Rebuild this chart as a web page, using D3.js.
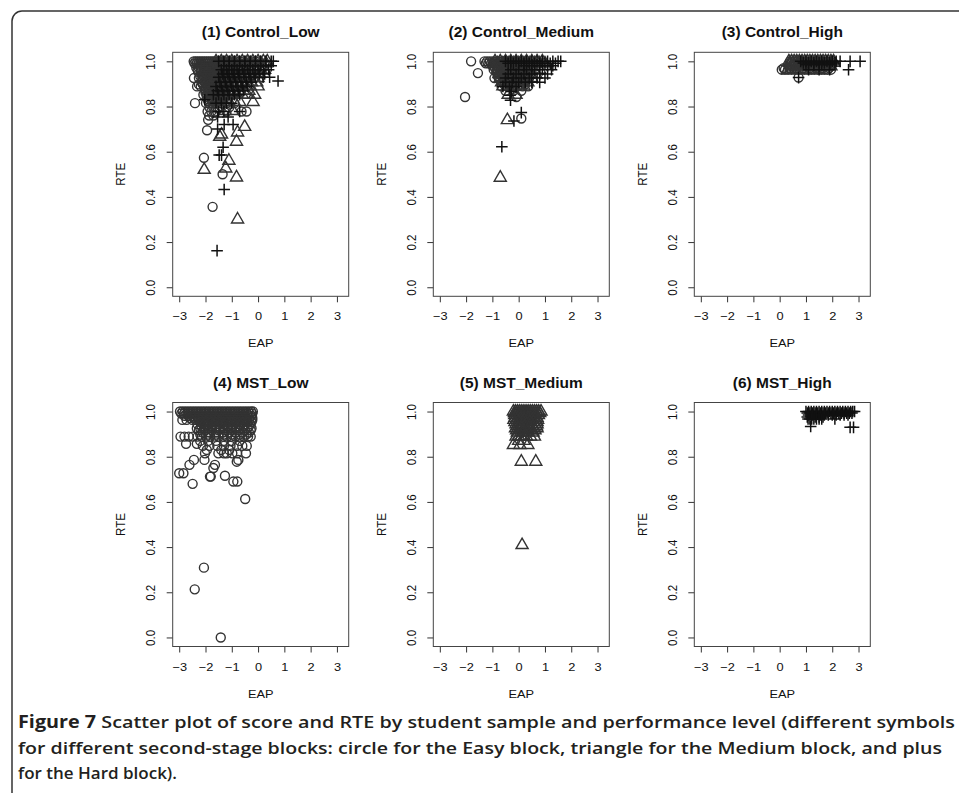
<!DOCTYPE html>
<html>
<head>
<meta charset="utf-8">
<script src="https://cdn.jsdelivr.net/npm/d3@7"></script>
<style>
  body { margin: 0; background: #fff; }
  svg text { font-family: "Liberation Sans", Arial, sans-serif; fill: #111; }
</style>
</head>
<body>
<svg id="chart" width="959" height="793"></svg>
<script>
// each row: [RTE, EAP, EAP, ...]  (points sharing one RTE value)
var xTicks = [-3, -2, -1, 0, 1, 2, 3];
var yTicks = [0, 0.2, 0.4, 0.6, 0.8, 1.0];
var titles = ['(1) Control_Low', '(2) Control_Medium', '(3) Control_High',
              '(4) MST_Low', '(5) MST_Medium', '(6) MST_High'];

var ctrlLowEasy = [
  [1.000, -2.45,-2.38,-2.31,-2.24,-2.17,-2.10,-2.03,-1.96,-1.89,-1.82,-1.75,-1.68,-1.61,-1.54,-1.47,-1.40,-1.33,-1.25,-1.15,-1.05,-0.95,-0.85,-0.7,-0.55,-0.4,-0.25,-0.1,0.05],
  [0.991, -2.42,-2.33,-2.24,-2.15,-2.06,-1.97,-1.88,-1.79,-1.70,-1.61,-1.52,-1.43,-1.34,-1.2,-1.0,-0.8,-0.5,-0.2],
  [0.981, -2.2,-2.05,-1.9,-1.75,-1.6,-1.45,-1.3,-1.15,-1.0,-0.85,-0.7],
  [0.972, -2.35,-2.25,-2.15,-2.05,-1.95,-1.85,-1.75,-1.65,-1.55,-1.45,-1.35,-1.25,-1.1,-0.95,-0.8],
  [0.963, -2.30,-2.18,-2.06,-1.94,-1.82,-1.70,-1.58,-1.46,-1.34,-1.22,-1.10,-0.98,-0.86,-0.74,-0.6],
  [0.954, -2.28,-2.16,-2.04,-1.92,-1.8,-1.68,-1.56,-1.44,-1.32,-1.2,-1.08],
  [0.944, -2.1,-1.95,-1.8,-1.65,-1.5,-1.35,-1.2,-1.05,-0.9],
  [0.935, -2.2,-2.08,-1.96,-1.84,-1.72,-1.6,-1.48,-1.36,-1.24,-1.12],
  [0.926, -2.44,-2.25,-2.12,-2.0,-1.88,-1.76,-1.64,-1.52,-1.40,-1.28,-1.16,-1.04,-0.92],
  [0.917, -2.1,-1.97,-1.84,-1.71,-1.58,-1.45,-1.32,-1.19],
  [0.907, -2.15,-2.0,-1.85,-1.7,-1.55,-1.4,-1.25,-1.1],
  [0.898, -2.25,-2.1,-1.96,-1.82,-1.68,-1.54,-1.4,-1.26,-1.12],
  [0.889, -2.32,-2.18,-2.05,-1.92,-1.80,-1.68,-1.56,-1.44,-1.32,-1.20,-1.08,-0.9],
  [0.880, -2.02,-1.88,-1.74,-1.6,-1.46,-1.32],
  [0.870, -2.0,-1.85,-1.7,-1.55,-1.4,-1.25],
  [0.861, -2.0,-1.86,-1.72,-1.58,-1.44,-1.3],
  [0.852, -2.08,-1.95,-1.82,-1.70,-1.58,-1.46,-1.34,-1.2,-1.0],
  [0.843, -1.95,-1.8,-1.65,-1.5,-1.35],
  [0.833, -1.9,-1.75,-1.6,-1.45,-1.3],
  [0.824, -1.9,-1.75,-1.6,-1.45],
  [0.815, -2.40,-1.98,-1.86,-1.74,-1.62,-1.5,-1.38,-1.2,-0.9],
  [0.796, -1.85,-1.7,-1.55,-1.1],
  [0.778, -1.92,-1.78,-1.64,-1.2,-0.63,-0.44],
  [0.760, -1.86,-1.7],
  [0.741, -1.90],
  [0.695, -1.94],
  [0.573, -2.06],
  [0.500, -1.35],
  [0.356, -1.73]
];
var ctrlLowMedium = [
  [1.000, -1.6,-1.4,-1.2,-1.0,-0.8,-0.6,-0.4,-0.2,0.0,0.2,0.35],
  [0.991, -1.5,-1.3,-1.1,-0.9,-0.7,-0.5,-0.3,-0.1,0.1,0.3],
  [0.963, -1.5,-1.3,-1.1,-0.9,-0.7,-0.5,-0.3,-0.1,0.1,0.25],
  [0.944, -1.55,-1.35,-1.15,-0.95,-0.75,-0.55,-0.35,-0.15,0.05],
  [0.926, -1.6,-1.4,-1.2,-1.0,-0.8,-0.6,-0.4,-0.2,0.0],
  [0.907, -1.45,-1.25,-1.05,-0.85,-0.65,-0.45,-0.25,-0.05],
  [0.889, -1.5,-1.3,-1.1,-0.9,-0.7,-0.5,-0.3,0.0],
  [0.870, -1.35,-1.15,-0.95,-0.75,-0.55,-0.35],
  [0.852, -1.4,-1.2,-1.0,-0.8,-0.6,-0.4,-0.13],
  [0.820, -1.3,-1.1,-0.9,-0.7,-0.19],
  [0.780, -1.25,-0.95],
  [0.710, -0.51],
  [0.685, -0.78],
  [0.676, -1.39],
  [0.666, -1.46],
  [0.644, -0.82],
  [0.560, -1.11],
  [0.526, -1.23],
  [0.520, -2.05],
  [0.486, -0.82],
  [0.300, -0.78]
];
var ctrlLowHard = [
  [1.000, -1.5,-1.3,-1.1,-0.9,-0.7,-0.5,-0.3,-0.1,0.1,0.3,0.5,0.58],
  [0.981, -1.3,-1.1,-0.9,-0.7,-0.5,-0.3,-0.1,0.1,0.3,0.5],
  [0.963, -1.4,-1.2,-1.0,-0.8,-0.6,-0.4,-0.2,0.0,0.2,0.4],
  [0.944, -1.35,-1.15,-0.95,-0.75,-0.55,-0.35,-0.15,0.05,0.25],
  [0.930, -1.5,-1.3,-1.1,-0.9,-0.7,-0.5,-0.3,-0.1,0.19,0.44],
  [0.913, 0.76],
  [0.907, -1.45,-1.25,-1.05,-0.85,-0.65,-0.45,-0.25],
  [0.889, -1.6,-1.4,-1.2,-1.0,-0.8,-0.6,-0.4],
  [0.870, -1.55,-1.35,-1.15,-0.95,-0.75,-0.55],
  [0.852, -1.7,-1.5,-1.3,-1.1,-0.9,-0.7],
  [0.830, -2.03],
  [0.815, -1.6,-1.4,-1.2,-1.0],
  [0.778, -1.5,-1.3,-0.7],
  [0.754, -1.54,-1.14],
  [0.720, -1.29,-0.95],
  [0.700, -1.54],
  [0.620, -1.33],
  [0.585, -1.48,-1.39],
  [0.433, -1.29],
  [0.162, -1.56]
];

var ctrlMedEasy = [
  [1.000, -1.81,-1.3,-1.2,-1.1,-1.0,-0.9,-0.8,-0.7,-0.6,-0.5,-0.4,-0.3,-0.2,-0.1,0.0,0.15,0.3,0.5,0.7],
  [0.991, -1.25,-1.15,-1.05,-0.95,-0.85,-0.75,-0.65,-0.55,-0.45,-0.35,-0.25,-0.15,-0.05,0.1,0.25,0.4],
  [0.981, -1.0,-0.85,-0.7,-0.55,-0.4,-0.25,-0.1,0.05,0.2],
  [0.972, -0.9,-0.75,-0.6,-0.45,-0.3,-0.15,0.0,0.15,0.35],
  [0.963, -0.95,-0.8,-0.65,-0.5,-0.35,-0.2,-0.05,0.1,0.3,0.5],
  [0.954, -0.85,-0.7,-0.55,-0.4,-0.25,-0.1,0.05,0.2,0.4],
  [0.948, -1.55,-0.79],
  [0.944, -0.7,-0.55,-0.4,-0.25,-0.1,0.05],
  [0.935, -0.8,-0.65,-0.5,-0.35,-0.2,-0.05,0.1,0.3],
  [0.926, -0.92,-0.75,-0.6,-0.45,-0.3,-0.15,0.0,0.2,0.4],
  [0.917, -0.7,-0.5,-0.3,-0.1,0.1,0.3],
  [0.907, -0.6,-0.4,-0.2,0.0,0.2],
  [0.898, -0.55,-0.35,-0.15,0.05,0.25],
  [0.889, -0.65,-0.45,-0.25,-0.05,0.15,0.36],
  [0.870, -0.5,-0.2,0.1],
  [0.842, -2.04,-0.09],
  [0.747, 0.10]
];
var ctrlMedMedium = [
  [1.000, -0.9,-0.7,-0.5,-0.3,-0.1,0.1,0.3,0.5,0.7,0.9],
  [0.991, -0.8,-0.6,-0.4,-0.2,0.0,0.2,0.4,0.6,0.8,1.0],
  [0.963, -0.8,-0.6,-0.4,-0.2,0.0,0.2,0.4,0.6,0.8],
  [0.944, -0.75,-0.55,-0.35,-0.15,0.05,0.25,0.45,0.65],
  [0.926, -0.7,-0.5,-0.3,-0.1,0.1,0.3,0.5],
  [0.907, -0.65,-0.45,-0.25,-0.05,0.15,0.35],
  [0.889, -0.6,-0.4,-0.2,0.0,0.2],
  [0.852, -0.4,-0.1],
  [0.740, -0.43],
  [0.485, -0.70]
];
var ctrlMedHard = [
  [1.000, -0.5,-0.3,-0.1,0.1,0.3,0.5,0.7,0.9,1.1,1.3,1.5,1.6],
  [0.991, -0.4,-0.2,0.0,0.2,0.4,0.6,0.8,1.0,1.2,1.4],
  [0.981, 0.2,0.5,0.8,1.1,1.3],
  [0.963, -0.3,0.0,0.3,0.6,0.9,1.25],
  [0.944, -0.4,-0.1,0.2,0.5,0.8,1.1],
  [0.926, -0.5,-0.2,0.1,0.4,0.7,1.0],
  [0.907, -0.5,-0.25,0.0,0.25,0.5,0.8],
  [0.889, -0.6,-0.35,-0.1],
  [0.866, -0.28],
  [0.850, -0.33],
  [0.828, -0.31],
  [0.773, 0.10],
  [0.736, -0.18],
  [0.622, -0.64]
];

var ctrlHighEasy = [
  [1.000, 0.4,0.6,0.8,1.0,1.2,1.4],
  [0.970, 0.15,0.38,0.64,0.9,1.14,1.38,1.64,1.88],
  [0.963, 0.08,0.2,0.32,0.45,0.58,0.7,0.82,0.95,1.08,1.2,1.32,1.45,1.58,1.7,1.82,1.95],
  [0.928, 0.72]
];
var ctrlHighMedium = [
  [1.000, 0.35,0.45,0.55,0.65,0.75,0.85,0.95,1.05,1.15,1.25,1.35,1.45,1.55,1.65,1.75,1.85,1.95,2.05],
  [0.993, 0.38,0.5,0.62,0.74,0.86,0.98,1.1,1.22,1.34,1.46,1.58,1.7,1.82,1.94,2.06],
  [0.985, 0.4,0.55,0.7,0.85,1.0,1.15,1.3,1.45,1.6,1.75,1.9],
  [0.978, 0.45,0.6,0.75,0.9,1.05,1.2,1.35,1.5,1.65,1.8,1.95],
  [0.963, 0.3,0.42,0.6,0.9,1.2,1.5]
];
var ctrlHighHard = [
  [1.000, 0.8,1.0,1.2,1.4,1.6,1.8,2.0,2.15,2.3,2.68,3.06],
  [0.993, 0.9,1.1,1.3,1.5,1.7,1.9,2.1],
  [0.985, 1.0,1.3,1.6,1.9],
  [0.963, 1.1,1.5,1.9,2.62],
  [0.928, 0.72]
];

var mstLowEasy = [
  [1.000, -2.97,-2.87,-2.77,-2.67,-2.57,-2.47,-2.37,-2.27,-2.17,-2.07,-1.97,-1.87,-1.77,-1.67,-1.57,-1.47,-1.37,-1.27,-1.17,-1.07,-0.97,-0.87,-0.77,-0.67,-0.57,-0.47,-0.37,-0.27,-0.2],
  [0.991, -2.92,-2.82,-2.72,-2.62,-2.52,-2.42,-2.32,-2.22,-2.12,-2.02,-1.92,-1.82,-1.72,-1.62,-1.52,-1.42,-1.32,-1.22,-1.12,-1.02,-0.92,-0.82,-0.72,-0.62,-0.52,-0.42,-0.32,-0.22],
  [0.981, -2.8,-2.65,-2.5,-2.35,-2.2,-2.05,-1.9,-1.75,-1.6,-1.45,-1.3,-1.15,-1.0,-0.85,-0.7,-0.55,-0.4,-0.25],
  [0.972, -2.6,-2.45,-2.3,-2.15,-2.0,-1.85,-1.7,-1.55,-1.4,-1.25,-1.1,-0.95,-0.8,-0.65,-0.5,-0.35,-0.22],
  [0.963, -2.88,-2.72,-2.5,-2.38,-2.26,-2.14,-2.02,-1.9,-1.78,-1.66,-1.54,-1.42,-1.3,-1.18,-1.06,-0.94,-0.82,-0.7,-0.58,-0.46,-0.34,-0.22],
  [0.954, -2.2,-2.05,-1.9,-1.75,-1.6,-1.45,-1.3,-1.15,-1.0,-0.85,-0.7,-0.55,-0.4,-0.25],
  [0.944, -2.3,-2.1,-1.9,-1.7,-1.5,-1.3,-1.1,-0.9,-0.7,-0.5,-0.3],
  [0.935, -2.15,-1.95,-1.75,-1.55,-1.35,-1.15,-0.95,-0.75,-0.55,-0.35],
  [0.926, -2.33,-2.2,-2.05,-1.9,-1.75,-1.6,-1.45,-1.3,-1.15,-1.0,-0.85,-0.7,-0.55,-0.4,-0.25],
  [0.917, -2.25,-2.0,-1.75,-1.5,-1.25,-1.0,-0.75,-0.5,-0.28],
  [0.907, -2.1,-1.85,-1.6,-1.35,-1.1,-0.85,-0.6,-0.35],
  [0.898, -2.2,-1.9,-1.6,-1.3,-1.0,-0.7,-0.45],
  [0.889, -2.95,-2.8,-2.64,-2.48,-2.3,-2.14,-1.98,-1.82,-1.66,-1.5,-1.34,-1.18,-1.02,-0.86,-0.7,-0.54,-0.38,-0.28],
  [0.870, -2.2,-1.9,-1.6,-1.3,-1.0,-0.7],
  [0.857, -2.74,-2.33],
  [0.848, -2.1,-1.85,-1.55,-1.3,-1.05,-0.8,-0.6,-0.43],
  [0.830, -1.95,-1.4,-1.1],
  [0.815, -2.02,-1.51,-1.3,-1.19,-0.98,-0.8,-0.46],
  [0.786, -2.44,-2.04,-0.75],
  [0.778, -0.81],
  [0.764, -2.61,-1.64],
  [0.750, -1.70],
  [0.727, -3.0,-2.84],
  [0.716, -1.26],
  [0.712, -1.83,-1.80],
  [0.690, -0.94,-0.79],
  [0.680, -2.49],
  [0.613, -0.49],
  [0.309, -2.06],
  [0.213, -2.41],
  [0.000, -1.42]
];
var mstMedMedium = [
  [1.000, -0.2,-0.12,-0.04,0.04,0.12,0.2,0.28,0.36,0.44,0.52,0.6,0.68,0.76,0.85],
  [0.993, -0.16,-0.08,0.0,0.08,0.16,0.24,0.32,0.4,0.48,0.56,0.64,0.72,0.8],
  [0.985, -0.15,0.0,0.15,0.3,0.45,0.6,0.75],
  [0.972, -0.14,-0.02,0.1,0.22,0.34,0.46,0.58,0.7],
  [0.963, -0.18,-0.08,0.02,0.12,0.22,0.32,0.42,0.52,0.62,0.72],
  [0.954, -0.14,0.0,0.14,0.28,0.42,0.56,0.7],
  [0.944, -0.1,0.1,0.3,0.5,0.7],
  [0.935, -0.05,0.1,0.25,0.4,0.55,0.68],
  [0.926, -0.12,-0.02,0.08,0.18,0.28,0.38,0.48,0.6,0.7],
  [0.917, -0.08,0.06,0.2,0.34,0.48,0.62],
  [0.907, -0.05,0.15,0.35,0.55],
  [0.889, -0.1,0.0,0.1,0.2,0.3,0.45,0.6],
  [0.870, 0.0,0.2],
  [0.852, -0.2,0.05,0.35],
  [0.778, 0.1,0.65],
  [0.409, 0.13]
];
var mstHighHard = [
  [1.000, 1.0,1.1,1.2,1.3,1.4,1.5,1.6,1.7,1.8,1.9,2.0,2.1,2.2,2.3,2.4,2.5,2.6,2.7,2.78,2.85],
  [0.993, 1.05,1.15,1.25,1.35,1.45,1.55,1.65,1.75,1.85,1.95,2.05,2.15,2.25,2.35,2.45,2.55,2.65,2.75],
  [0.985, 1.1,1.25,1.4,1.55,1.7,1.85,2.0,2.15,2.3,2.45,2.6],
  [0.976, 1.05,1.2,1.35,1.5,1.65],
  [0.967, 1.08,1.15,1.22,1.3,1.4,1.5,1.6,2.1],
  [0.934, 1.18],
  [0.930, 2.68,2.81]
];

var panelData = [
  [ctrlLowEasy, ctrlLowMedium, ctrlLowHard],
  [ctrlMedEasy, ctrlMedMedium, ctrlMedHard],
  [ctrlHighEasy, ctrlHighMedium, ctrlHighHard],
  [mstLowEasy, [], []],
  [[], mstMedMedium, []],
  [[], [], mstHighHard]
];

var captionLines = [
  ['Figure 7', ' Scatter plot of score and RTE by student sample and performance level (different symbols'],
  ['', 'for different second-stage blocks: circle for the Easy block, triangle for the Medium block, and plus'],
  ['', 'for the Hard block).']
];

// ---------------------------------------------------------------
var svg = d3.select('#chart');
var colLeft = [172.7, 433.3, 694.3];
var rowTop = [52.3, 402.5];
var boxW = 176, boxH = 244;
var R = 4.5;      // symbol radius
var sy = 0.9;     // text in the original figure is a little squeezed vertically
var axisFont = 12.8;

var x = d3.scaleLinear().domain([-3.248, 3.448]).range([0, boxW]);
var y = d3.scaleLinear().domain([-0.04, 1.04]).range([boxH, 0]);

function fmtX(d) { return d < 0 ? '\u2212' + Math.abs(d) : String(d); }

function rowsToPoints(rows) {
  var pts = [];
  rows.forEach(function(r) {
    for (var i = 1; i < r.length; i++) pts.push([r[i], r[0]]);
  });
  return pts;
}

function place(d) {
  return 'translate(' + x(d[0]) + ',' + y(d[1]) + ')';
}

// page frame
svg.append('path')
  .attr('d', 'M12,793 L12,21 A10,10 0 0 1 22,11 L959,11')
  .attr('fill', 'none')
  .attr('stroke', '#333')
  .attr('stroke-width', 1.5);

var triPath = 'M0,' + (-1.555 * R) + 'L' + (1.347 * R) + ',' + (0.778 * R) +
  'L' + (-1.347 * R) + ',' + (0.778 * R) + 'Z';
var plusArm = 5.8;

panelData.forEach(function(series, p) {
  var g = svg.append('g')
    .attr('transform', 'translate(' + colLeft[p % 3] + ',' + rowTop[Math.floor(p / 3)] + ')');

  // x axis
  var xa = g.append('g')
    .attr('transform', 'translate(0,' + boxH + ')')
    .call(d3.axisBottom(x).tickValues(xTicks).tickSize(6).tickFormat(fmtX));
  xa.select('.domain').remove();
  xa.selectAll('line').attr('stroke', '#333');
  xa.selectAll('text')
    .attr('font-size', axisFont).attr('fill', '#111')
    .style('font-family', '"Liberation Sans", Arial, sans-serif')
    .attr('y', 0).attr('dy', '0.36em')
    .attr('transform', 'translate(0,20) scale(1,' + sy + ')');

  // y axis with labels parallel to the axis
  var ya = g.append('g')
    .call(d3.axisLeft(y).tickValues(yTicks).tickSize(6).tickFormat(d3.format('.1f')));
  ya.select('.domain').remove();
  ya.selectAll('line').attr('stroke', '#333');
  ya.selectAll('text')
    .attr('font-size', axisFont).attr('fill', '#111')
    .style('font-family', '"Liberation Sans", Arial, sans-serif')
    .attr('x', 0).attr('y', 0).attr('dy', '0.36em')
    .attr('text-anchor', 'middle')
    .attr('transform', 'translate(-22,0) scale(1,' + sy + ') rotate(-90)');

  // box
  g.append('rect')
    .attr('width', boxW).attr('height', boxH)
    .attr('fill', 'none').attr('stroke', '#444').attr('stroke-width', 1);

  // labels
  g.append('text')
    .attr('transform', 'translate(' + (boxW / 2) + ',' + (boxH + 47) + ') scale(1,' + sy + ')')
    .attr('dy', '0.36em')
    .attr('text-anchor', 'middle').attr('font-size', axisFont)
    .text('EAP');
  g.append('text')
    .attr('transform', 'translate(-52,' + (boxH / 2) + ') scale(1,' + sy + ') rotate(-90)')
    .attr('dy', '0.36em')
    .attr('text-anchor', 'middle').attr('font-size', axisFont)
    .text('RTE');
  g.append('text')
    .attr('transform', 'translate(' + (boxW / 2) + ',-20) scale(1,' + sy + ')')
    .attr('dy', '0.36em')
    .attr('text-anchor', 'middle').attr('font-size', 15.5).attr('font-weight', 'bold')
    .attr('fill', '#111')
    .text(titles[p]);

  // easy block: circles
  g.append('g').selectAll('circle')
    .data(rowsToPoints(series[0]))
    .enter().append('circle')
    .attr('r', R)
    .attr('transform', place)
    .attr('fill', 'none').attr('stroke', '#333').attr('stroke-width', 1.4);

  // medium block: triangles
  g.append('g').selectAll('path')
    .data(rowsToPoints(series[1]))
    .enter().append('path')
    .attr('d', triPath)
    .attr('transform', place)
    .attr('fill', 'none').attr('stroke', '#333').attr('stroke-width', 1.4);

  // hard block: plus
  g.append('g').selectAll('path')
    .data(rowsToPoints(series[2]))
    .enter().append('path')
    .attr('d', 'M' + (-plusArm) + ',0H' + plusArm + 'M0,' + (-plusArm) + 'V' + plusArm)
    .attr('transform', place)
    .attr('fill', 'none').attr('stroke', '#111').attr('stroke-width', 1.5);
});

// caption
var capWidths = [937, 924, null];
var cap = svg.append('g');
captionLines.forEach(function(line, i) {
  var t = cap.append('text')
    .attr('x', 18).attr('y', 728 + i * 25.5)
    .attr('font-size', 17)
    .style('font-family', '"Open Sans", "Noto Sans", sans-serif')
    .style('fill', '#231f20');
  if (line[0]) t.append('tspan').attr('font-weight', 700).text(line[0]);
  t.append('tspan').attr('font-weight', 600).text(line[1]);
  if (capWidths[i]) t.attr('textLength', capWidths[i]).attr('lengthAdjust', 'spacingAndGlyphs');
});
</script>
</body>
</html>
